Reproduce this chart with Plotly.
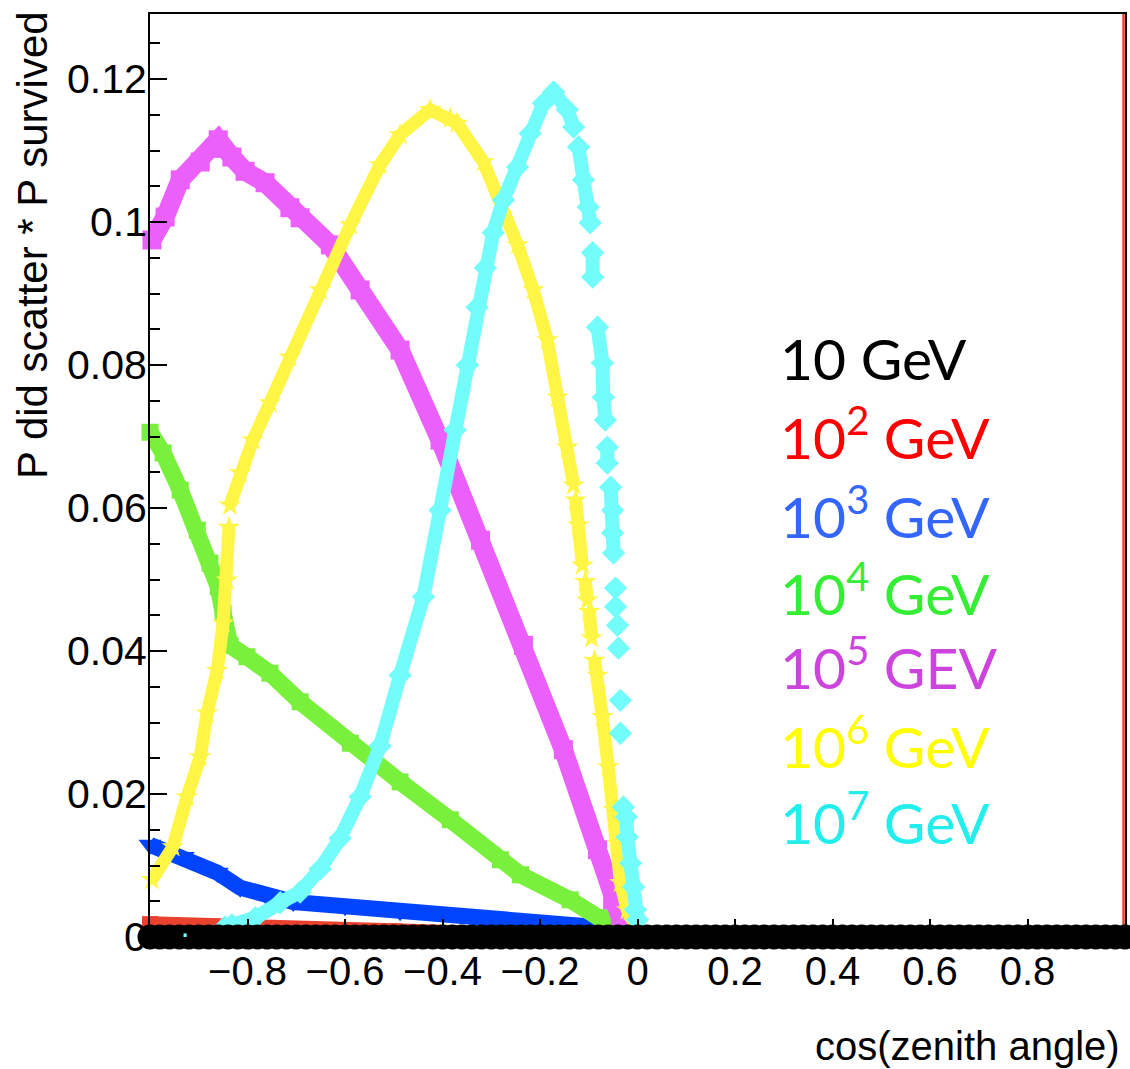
import plotly.graph_objects as go

# ---------------- data ----------------
x_tick_vals = [-0.8, -0.6, -0.4, -0.2, 0.0, 0.2, 0.4, 0.6, 0.8]
x_tick_text = ["\u22120.8", "\u22120.6", "\u22120.4", "\u22120.2", "0", "0.2", "0.4", "0.6", "0.8"]
y_tick_vals = [0.0, 0.02, 0.04, 0.06, 0.08, 0.10, 0.12]
y_tick_text = ["0", "0.02", "0.04", "0.06", "0.08", "0.1", "0.12"]
x_range = [-1.0, 1.0]
y_range = [0.0, 0.1291]

legend_labels = ["10 GeV", "10<sup>2</sup> GeV", "10<sup>3</sup> GeV", "10<sup>4</sup> GeV",
                 "10<sup>5</sup> GEV", "10<sup>6</sup> GeV", "10<sup>7</sup> GeV"]

# 10 GeV: zero everywhere on cos(zenith) in [-1, 1]
e1_x = [round(-1.0 + 0.02 * i, 2) for i in range(101)]
e1_y = [0.0] * 101

# 10^2 GeV
e2_pts = [(-1.0, 0.0018), (-0.9, 0.0015), (-0.7, 0.0011), (-0.5, 0.0008),
          (-0.3, 0.0004), (-0.1, 0.0002), (0.0, 0.0)]
e2_edge_x = [0.997, 0.997]
e2_edge_y = [0.0, 0.1291]

# 10^3 GeV
e3_pts = [(-1.0, 0.0129), (-0.932, 0.0112), (-0.862, 0.0090), (-0.815, 0.0069),
          (-0.760, 0.0057), (-0.706, 0.0049), (-0.600, 0.0043), (-0.487, 0.0036),
          (-0.363, 0.0031), (-0.255, 0.0025), (-0.158, 0.0021), (-0.097, 0.0017),
          (-0.066, 0.0013)]

# 10^4 GeV
e4_pts = [(-1.0, 0.0706), (-0.973, 0.0677), (-0.938, 0.0625), (-0.903, 0.0569),
          (-0.877, 0.0523), (-0.860, 0.0490), (-0.850, 0.0453), (-0.836, 0.0408),
          (-0.801, 0.0392), (-0.754, 0.0369), (-0.692, 0.0329), (-0.589, 0.0271),
          (-0.487, 0.0217), (-0.384, 0.0164), (-0.281, 0.0108), (-0.240, 0.0087),
          (-0.138, 0.0052), (-0.070, 0.0027), (-0.051, 0.0015)]

# 10^5 GeV
e5_pts = [(-0.996, 0.0975), (-0.969, 0.1007), (-0.938, 0.1059), (-0.897, 0.1084),
          (-0.867, 0.1103), (-0.860, 0.1115), (-0.832, 0.1091), (-0.805, 0.1071),
          (-0.764, 0.1055), (-0.713, 0.1020), (-0.692, 0.1006), (-0.630, 0.0968),
          (-0.569, 0.0905), (-0.487, 0.0821), (-0.405, 0.0695), (-0.322, 0.0555),
          (-0.234, 0.0408), (-0.152, 0.0262), (-0.082, 0.0122), (-0.051, 0.0052),
          (-0.035, 0.0027), (-0.018, 0.0010)]

# 10^6 GeV (None = visible gap between markers)
e6_pts = [(-0.996, 0.0080), (-0.953, 0.0126), (-0.924, 0.0196), (-0.897, 0.0252),
          (-0.883, 0.0313), (-0.862, 0.0373), (-0.850, 0.0439), (-0.842, 0.0499),
          (-0.838, 0.0573), (None, None),
          (-0.836, 0.0604), (-0.815, 0.0649), (-0.789, 0.0695), (-0.754, 0.0747),
          (-0.713, 0.0811), (-0.651, 0.0905), (-0.589, 0.0996), (-0.528, 0.1080),
          (-0.487, 0.1122), (-0.425, 0.1157), (-0.384, 0.1145), (-0.370, 0.1138),
          (-0.316, 0.1084), (-0.281, 0.1031), (-0.246, 0.0968), (-0.214, 0.0905),
          (-0.185, 0.0835), (-0.164, 0.0755), (-0.144, 0.0685), (-0.131, 0.0632),
          (None, None),
          (-0.127, 0.0611), (-0.121, 0.0576), (-0.113, 0.0520), (None, None),
          (-0.107, 0.0497), (-0.103, 0.0471), (None, None),
          (-0.099, 0.0455), (-0.094, 0.0418), (None, None),
          (-0.088, 0.0387), (-0.082, 0.0366), (-0.072, 0.0308), (-0.060, 0.0238),
          (-0.049, 0.0178), (-0.041, 0.0131), (-0.035, 0.0076), (-0.021, 0.0038),
          (-0.008, 0.0021)]

# 10^7 GeV
e7_pts = [(-0.846, 0.0014), (-0.832, 0.0017), (-0.784, 0.0027), (-0.733, 0.0048),
          (-0.692, 0.0063), (-0.651, 0.0095), (-0.610, 0.0138), (-0.569, 0.0196),
          (-0.528, 0.0267), (-0.487, 0.0366), (-0.439, 0.0476), (-0.405, 0.0597),
          (-0.374, 0.0709), (-0.349, 0.0800), (-0.329, 0.0881), (-0.312, 0.0936),
          (-0.296, 0.0985), (-0.275, 0.1031), (-0.246, 0.1077), (-0.220, 0.1124),
          (-0.193, 0.1166), (-0.172, 0.1182), (-0.144, 0.1157), (-0.131, 0.1133),
          (None, None),
          (-0.121, 0.1105), (-0.111, 0.1059), (-0.101, 0.1021), (-0.097, 0.0999),
          (None, None),
          (-0.092, 0.0957), (-0.092, 0.0923), (None, None),
          (-0.082, 0.0853), (-0.072, 0.0803), (-0.070, 0.0755), (-0.066, 0.0723),
          (None, None),
          (-0.062, 0.0685), (-0.062, 0.0663), (None, None),
          (-0.055, 0.0629), (-0.051, 0.0597), (-0.051, 0.0565), (-0.049, 0.0537),
          (None, None), (-0.045, 0.0488), (None, None), (-0.045, 0.0462),
          (None, None), (-0.041, 0.0436), (None, None), (-0.039, 0.0404),
          (None, None), (-0.035, 0.0331), (None, None), (-0.035, 0.0285),
          (None, None),
          (-0.029, 0.0182), (-0.023, 0.0168), (-0.021, 0.0140), (-0.014, 0.0103),
          (-0.008, 0.0070), (-0.004, 0.0038), (0.0, 0.0024)]
e7_stray_x = [-0.928, -0.928]
e7_stray_y = [0.0003, 0.0]

# ---------------- styling ----------------
AX_FONT = "Liberation Sans, Arial, Helvetica, sans-serif"
LEG_FONT = "Lato, Carlito, Calibri, sans-serif"
marker_colors = ["#000000", "#E8412D", "#0044FF", "#78F03C", "#EB60FA", "#FFF545", "#73FDFA"]
legend_colors = ["#000000", "#FF0000", "#3366FF", "#33EE33", "#CC44DD", "#FFFF00", "#22EEEE"]

fig = go.Figure()


def add_series(pts, color, symbol, msize, lwidth):
    xs = [p[0] for p in pts]
    ys = [p[1] for p in pts]
    fig.add_trace(go.Scatter(
        x=xs, y=ys, mode="lines+markers", cliponaxis=False,
        line=dict(color=color, width=lwidth),
        marker=dict(color=color, symbol=symbol, size=msize, line=dict(width=0)),
        connectgaps=False, hoverinfo="skip"))


add_series(e2_pts, marker_colors[1], "square", 16, 16)
fig.add_trace(go.Scatter(x=e2_edge_x, y=e2_edge_y, mode="lines",
                         line=dict(color=marker_colors[1], width=2.5), hoverinfo="skip"))
add_series(e3_pts, marker_colors[2], "triangle-down", 20, 16)
add_series(e4_pts, marker_colors[3], "square", 17, 17)
add_series(e5_pts, marker_colors[4], "square", 19, 19)
add_series(e6_pts, marker_colors[5], "star", 17, 13)
add_series(e7_pts, marker_colors[6], "diamond", 18, 14)

# 10 GeV band along y = 0
fig.add_trace(go.Scatter(x=e1_x, y=e1_y, mode="markers", cliponaxis=False,
                         marker=dict(color=marker_colors[0], symbol="circle", size=25,
                                     line=dict(width=0)), hoverinfo="skip"))
fig.add_trace(go.Scatter(x=e7_stray_x, y=e7_stray_y, mode="markers", cliponaxis=False,
                         marker=dict(color=marker_colors[6], symbol="square", size=3,
                                     line=dict(width=0)), hoverinfo="skip"))

fig.update_xaxes(range=x_range, tickmode="array", tickvals=x_tick_vals, ticktext=x_tick_text,
                 ticks="inside", ticklen=18, tickwidth=2, tickcolor="black",
                 showline=True, linecolor="black", linewidth=2, mirror=True,
                 showgrid=False, zeroline=False, ticklabelstandoff=-2, automargin=False,
                 tickfont=dict(family=AX_FONT, size=40, color="black"))
# y tick labels are drawn as annotations (below) so they sit close to the axis
fig.update_yaxes(range=y_range, tickmode="array", tickvals=y_tick_vals,
                 showticklabels=False,
                 ticks="inside", ticklen=17, tickwidth=2, tickcolor="black",
                 minor=dict(dtick=0.005, tick0=0, ticks="inside", ticklen=10,
                            tickwidth=2, tickcolor="black"),
                 showline=True, linecolor="black", linewidth=2, mirror=True,
                 showgrid=False, zeroline=False, automargin=False)

annotations = [
    dict(text="P did scatter * P survived", xref="paper", x=0, xshift=-118,
         xanchor="center", yref="paper", y=0.7497, yanchor="middle", textangle=-90,
         showarrow=False, font=dict(family=AX_FONT, size=42, color="black")),
    dict(text="cos(zenith angle)", xref="paper", x=1, xanchor="right", xshift=-3,
         yref="paper", y=-0.1181, yanchor="middle", showarrow=False,
         font=dict(family=AX_FONT, size=40, color="black")),
]
for tv, tt in zip(y_tick_vals, y_tick_text):
    annotations.append(dict(text=tt, xref="paper", x=0, xanchor="right", xshift=-1,
                            yref="y", y=tv, yanchor="middle", showarrow=False,
                            font=dict(family=AX_FONT, size=41, color="black")))
legend_y = [0.627, 0.545, 0.460, 0.377, 0.296, 0.211, 0.128]
for lab, col, yy in zip(legend_labels, legend_colors, legend_y):
    annotations.append(dict(text=lab, xref="paper", x=0.644, xanchor="left",
                            yref="paper", y=yy, yanchor="middle", showarrow=False,
                            font=dict(family=LEG_FONT, size=57, color=col)))

fig.update_layout(width=1130, height=1069, margin=dict(l=150, r=5, t=14, b=132),
                  plot_bgcolor="white", paper_bgcolor="white", showlegend=False,
                  annotations=annotations)

fig.write_html("out.html", config={"displayModeBar": False},
               post_script="document.body.style.margin='0px';")
